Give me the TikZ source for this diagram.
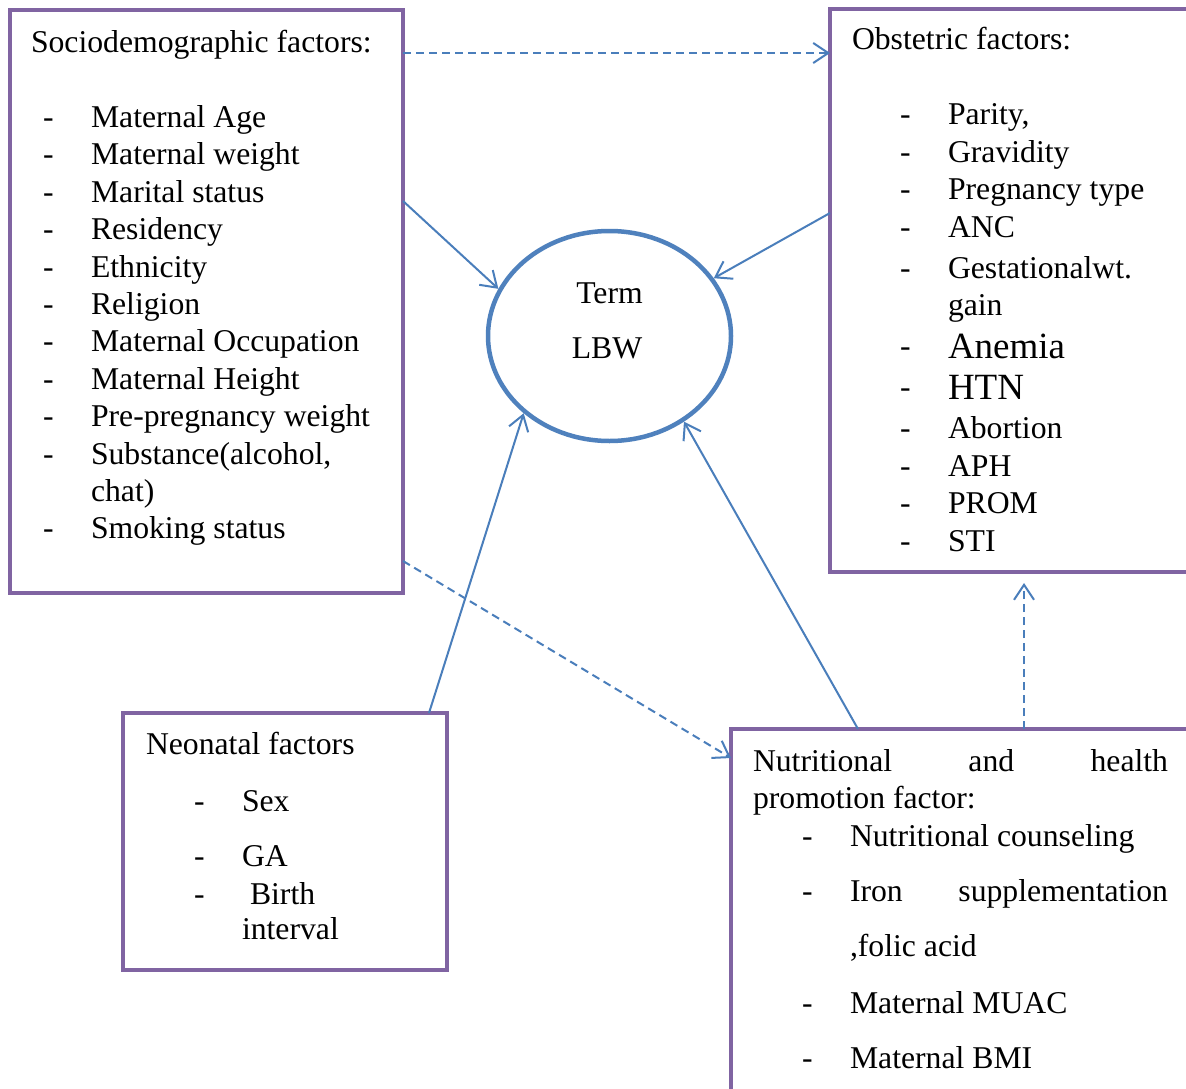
\documentclass[tikz,border=0pt]{standalone}
\usepackage{fontspec}
\setmainfont{Liberation Serif}
\usetikzlibrary{arrows.meta,shapes.geometric}
\definecolor{boxpurple}{HTML}{8064A2}
\definecolor{arrowblue}{HTML}{4A7EBB}
\definecolor{ellblue}{HTML}{4F81BD}
\newcommand{\basefont}{\fontsize{31.7}{37.4}\selectfont}
\newcommand{\bigfont}{\fontsize{37}{44}\selectfont}
\begin{document}
\begin{tikzpicture}[x=1pt,y=-1pt,
  box/.style={draw=boxpurple, line width=4pt, rectangle, anchor=north west, inner sep=0pt, outer sep=0pt},
  txt/.style={anchor=base west, inner sep=0pt, outer sep=0pt, font=\basefont, yshift=-1.5pt},
  ctxt/.style={anchor=base, inner sep=0pt, outer sep=0pt, font=\basefont, yshift=-1pt},
  barbtip/.style={-{Straight Barb[length=15pt,width=20pt]}},
  link/.style={draw=arrowblue, line width=2pt, barbtip},
  dlink/.style={link, dash pattern=on 8pt off 5pt}]
\fill[white] (0,0) rectangle (1186,1089);
\useasboundingbox (0,0) rectangle (1186,1089);
\clip (0,0) rectangle (1186,1089);

% boxes
\node[box, minimum width=393pt, minimum height=583pt] (socio) at (10,10) {};
\node[box, minimum width=370pt, minimum height=562.5pt] (obst) at (830,9.5) {};
\node[box, minimum width=324pt, minimum height=257pt] (neo) at (123,713) {};
\node[box, minimum width=469pt, minimum height=371pt] (nutr) at (731,729) {};

% ellipse
\node[draw=ellblue, line width=4.5pt, ellipse, minimum width=243pt, minimum height=210pt, inner sep=0pt] (ell) at (609.5,336) {};
\node[ctxt] (term) at (609.5,302) {Term};
\node[ctxt] (lbw) at (607,357) {LBW};

% sociodemographic
\node[txt] (sochead) at (31,51) {Sociodemographic factors:};
\foreach \yy/\t [count=\i] in {126/Maternal Age, 163.4/Maternal weight, 200.8/Marital status, 238.2/Residency, 275.6/Ethnicity, 313/Religion, 350.4/Maternal Occupation, 387.8/Maternal Height, 425.2/Pre-pregnancy weight, 462.6/{Substance(alcohol,}, 537.4/Smoking status}{
  \node[txt] (sdash\i) at (43,\yy) {-};
  \node[txt] (sitem\i) at (91,\yy) {\t};
}
\node[txt] (schat) at (91,500) {chat)};

% obstetric
\node[txt] (obhead) at (852,48) {Obstetric factors:};
\foreach \yy/\t [count=\i] in {123/{Parity,}, 161/Gravidity, 198/Pregnancy type, 236/ANC, 277/Gestationalwt., 437/Abortion, 475/APH, 512/PROM, 550/STI}{
  \node[txt] (odash\i) at (900,\yy) {-};
  \node[txt] (oitem\i) at (948,\yy) {\t};
}
\node[txt] (ogain) at (948,314) {gain};
\node[txt] (odashA) at (900,355) {-};
\node[txt, font=\bigfont] (oanemia) at (948,357) {Anemia};
\node[txt] (odashH) at (900,396) {-};
\node[txt, font=\bigfont] (ohtn) at (948,398) {HTN};

% neonatal
\node[txt] (neohead) at (146,753) {Neonatal factors};
\node[txt] (ndash1) at (194,810) {-};
\node[txt] (nsex) at (242,810) {Sex};
\node[txt] (ndash2) at (194,865) {-};
\node[txt] (nga) at (242,865) {GA};
\node[txt] (ndash3) at (194,903) {-};
\node[txt] (nbirth) at (250,903) {Birth};
\node[txt] (ninterval) at (242,938) {interval};

% nutritional
\node[txt] (nuhead1) at (753,770) {\makebox[415pt][l]{Nutritional\hfill and\hfill health}};
\node[txt] (nuhead2) at (753,807) {promotion factor:};
\node[txt] (nudash1) at (802,845) {-};
\node[txt] (nuitem1) at (850,845) {Nutritional counseling};
\node[txt] (nudash2) at (802,900) {-};
\node[txt] (nuitem2) at (850,900) {\makebox[318pt][l]{Iron\hfill supplementation}};
\node[txt] (nuitem2b) at (850,955) {,folic acid};
\node[txt] (nudash3) at (802,1012) {-};
\node[txt] (nuitem3) at (850,1012) {Maternal MUAC};
\node[txt] (nudash4) at (802,1067) {-};
\node[txt] (nuitem4) at (850,1067) {Maternal BMI};

% helper coordinates
\coordinate (ya) at (0,53);
\coordinate (yb) at (0,201);
\coordinate (yc) at (0,213);
\coordinate (xd) at (429,0);
\coordinate (xe) at (858,0);
\coordinate (yf) at (0,561);
\coordinate (yg) at (0,758);
\coordinate (xh) at (1024,0);

% connectors
\draw[dlink] (socio.east |- ya) -- (obst.west |- ya);
\draw[link] (socio.east |- yb) -- (ell.157.3);
\draw[link] (obst.west |- yc) -- (ell.29.7);
\draw[link] (neo.north -| xd) -- (ell.222.5);
\draw[link] (nutr.north -| xe) -- (ell.311.5);
\draw[dlink] (socio.east |- yf) -- (nutr.west |- yg);
\draw[dlink, shorten >=11pt] (nutr.north -| xh) -- (obst.south -| xh);
\end{tikzpicture}
\end{document}
